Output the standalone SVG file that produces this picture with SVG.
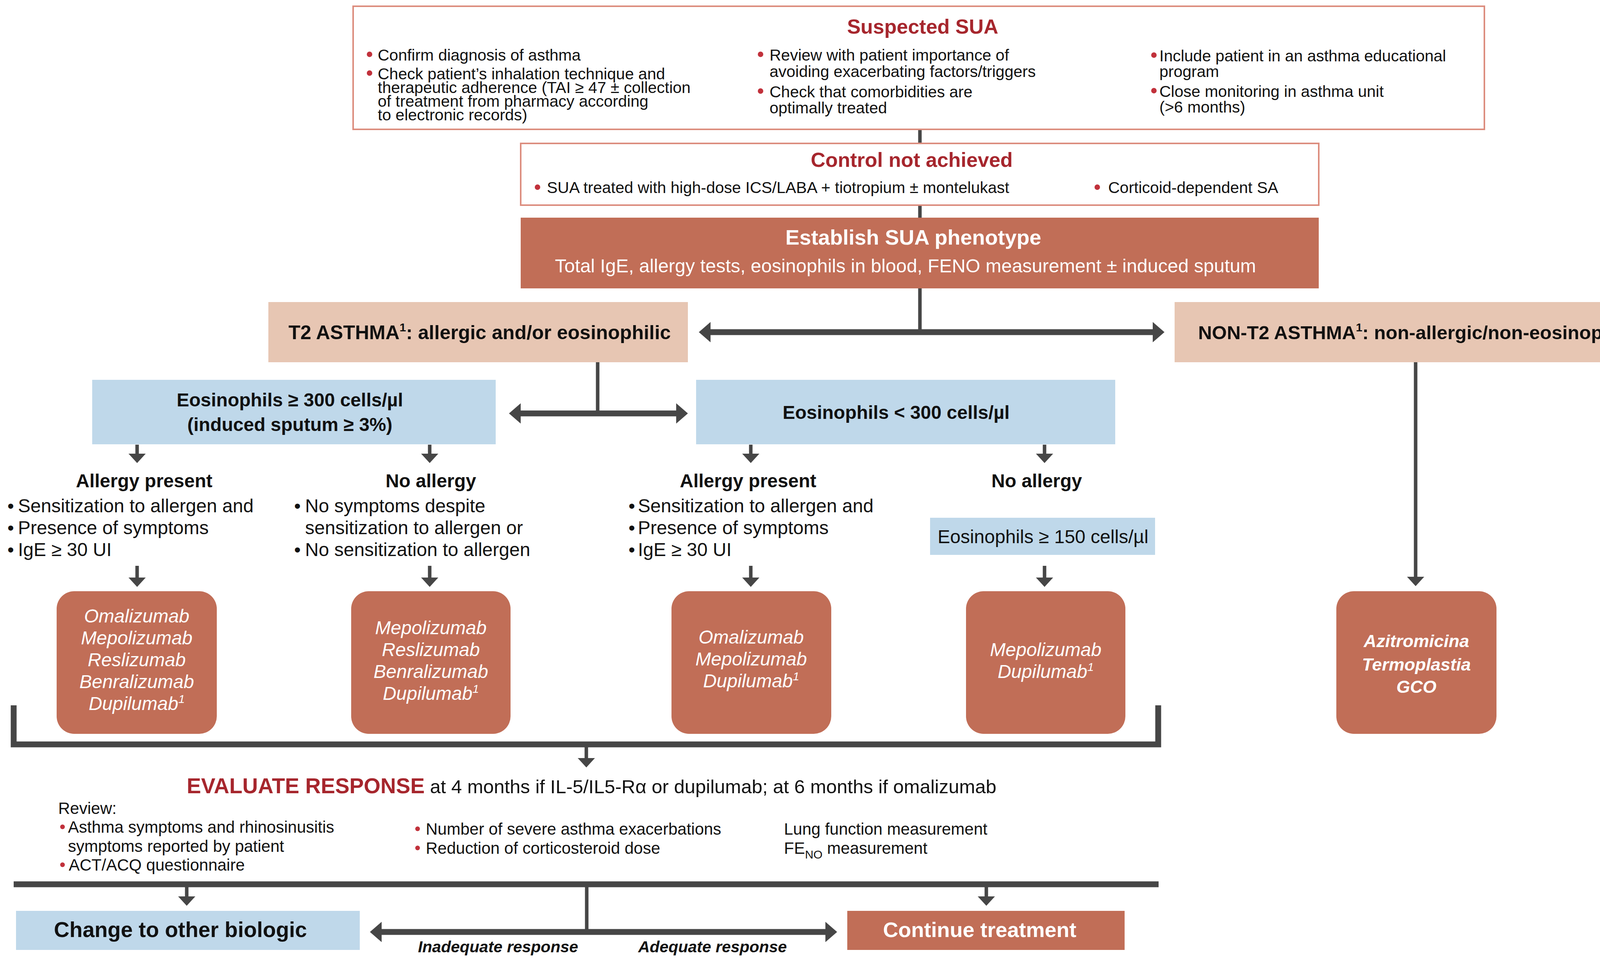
<svg xmlns="http://www.w3.org/2000/svg" width="4258" height="2467" viewBox="0 0 4258 2467">
<style>
text{font-family:"Liberation Sans",Arial,Helvetica,sans-serif;fill:#111}
.b{font-weight:bold}
.i{font-style:italic}
.red{fill:#a6262d}
.w{fill:#fff}
.s41{font-size:41px}
.s42{font-size:42px}
.s48{font-size:48px}
.s52{font-size:52px}
.s54{font-size:54px}
.mid{text-anchor:middle}
.frame{fill:#fff;stroke:#dc8d7e;stroke-width:4}
.terra{fill:#c16e57}
.peach{fill:#e7c6b3}
.blue{fill:#bfd8ea}
.ln{stroke:#464646;fill:none;stroke-width:9}
.thick{stroke:#464646;fill:none;stroke-width:15}
.dot{fill:#c1313b}
</style>
<defs>
<marker id="ah" markerUnits="userSpaceOnUse" viewBox="0 0 24 44" markerWidth="24" markerHeight="44" refX="0" refY="22" orient="auto-start-reverse"><path d="M0,0 L24,22 L0,44 z" fill="#464646"/></marker>
<marker id="ahB" markerUnits="userSpaceOnUse" viewBox="0 0 30 52" markerWidth="30" markerHeight="52" refX="0" refY="26" orient="auto-start-reverse"><path d="M0,0 L30,26 L0,52 z" fill="#464646"/></marker>
</defs>
<rect width="4258" height="2467" fill="#fff"/>

<g id="connectors">
<line class="ln" x1="2355" y1="331" x2="2355" y2="367"/>
<line class="ln" x1="2355" y1="525" x2="2355" y2="557"/>
<line class="ln" x1="2355" y1="738" x2="2355" y2="850"/>
<line class="thick" x1="1819" y1="850" x2="2951" y2="850" marker-start="url(#ahB)" marker-end="url(#ahB)"/>
<line class="ln" x1="1530" y1="927" x2="1530" y2="1058"/>
<line class="thick" x1="1333" y1="1058" x2="1731" y2="1058" marker-start="url(#ahB)" marker-end="url(#ahB)"/>
<line class="ln" x1="3624" y1="927" x2="3624" y2="1476" marker-end="url(#ah)"/>
<line class="ln" x1="351" y1="1138" x2="351" y2="1161" marker-end="url(#ah)"/>
<line class="ln" x1="1100" y1="1138" x2="1100" y2="1161" marker-end="url(#ah)"/>
<line class="ln" x1="1922" y1="1138" x2="1922" y2="1161" marker-end="url(#ah)"/>
<line class="ln" x1="2674" y1="1138" x2="2674" y2="1161" marker-end="url(#ah)"/>
<line class="ln" x1="351" y1="1448" x2="351" y2="1478" marker-end="url(#ah)"/>
<line class="ln" x1="1100" y1="1448" x2="1100" y2="1478" marker-end="url(#ah)"/>
<line class="ln" x1="1922" y1="1448" x2="1922" y2="1478" marker-end="url(#ah)"/>
<line class="ln" x1="2674" y1="1448" x2="2674" y2="1478" marker-end="url(#ah)"/>
<path class="thick" d="M35,1805 V1905 H2965 V1805"/>
<line class="ln" x1="1501" y1="1912" x2="1501" y2="1940" marker-end="url(#ah)"/>
<line class="thick" x1="35" y1="2263" x2="2966" y2="2263"/>
<line class="ln" x1="478" y1="2270" x2="478" y2="2294" marker-end="url(#ah)"/>
<line class="ln" x1="2525" y1="2270" x2="2525" y2="2294" marker-end="url(#ah)"/>
<line class="ln" x1="1502" y1="2270" x2="1502" y2="2385"/>
<line class="thick" x1="977" y1="2385" x2="2113" y2="2385" marker-start="url(#ahB)" marker-end="url(#ahB)"/>
<text class="b i s41 mid" x="1275" y="2437">Inadequate response</text>
<text class="b i s41 mid" x="1824" y="2437">Adequate response</text>
</g>

<g id="suspected">
<rect class="frame" x="904" y="16" width="2896" height="315"/>
<text class="b s52 red mid" x="2362" y="86">Suspected SUA</text>
<circle class="dot" cx="946" cy="139" r="7"/>
<text class="s41" x="967" y="155">Confirm diagnosis of asthma</text>
<circle class="dot" cx="946" cy="187" r="7"/>
<text class="s41" x="967" y="203">Check patient’s inhalation technique and</text>
<text class="s41" x="967" y="238">therapeutic adherence (TAI ≥ 47 ± collection</text>
<text class="s41" x="967" y="273">of treatment from pharmacy according</text>
<text class="s41" x="967" y="308">to electronic records)</text>
<circle class="dot" cx="1947" cy="139" r="7"/>
<text class="s41" x="1970" y="155">Review with patient importance of</text>
<text class="s41" x="1970" y="197">avoiding exacerbating factors/triggers</text>
<circle class="dot" cx="1947" cy="233" r="7"/>
<text class="s41" x="1970" y="249">Check that comorbidities are</text>
<text class="s41" x="1970" y="290">optimally treated</text>
<circle class="dot" cx="2954" cy="141" r="7"/>
<text class="s41" x="2968" y="157">Include patient in an asthma educational</text>
<text class="s41" x="2968" y="197">program</text>
<circle class="dot" cx="2954" cy="232" r="7"/>
<text class="s41" x="2968" y="248">Close monitoring in asthma unit</text>
<text class="s41" x="2968" y="288">(&gt;6 months)</text>
</g>

<g id="control">
<rect class="frame" x="1333" y="367" width="2043" height="158"/>
<text class="b s52 red mid" x="2334" y="427">Control not achieved</text>
<circle class="dot" cx="1376" cy="479" r="7"/>
<text class="s41" x="1400" y="494">SUA treated with high-dose ICS/LABA + tiotropium ± montelukast</text>
<circle class="dot" cx="2809" cy="479" r="7"/>
<text class="s41" x="2837" y="494">Corticoid-dependent SA</text>
</g>

<g id="establish">
<rect class="terra" x="1333" y="557" width="2043" height="181"/>
<text class="b s54 w mid" x="2338" y="626">Establish SUA phenotype</text>
<text class="w mid" x="2318" y="697" font-size="48.5">Total IgE, allergy tests, eosinophils in blood, FENO measurement ± induced sputum</text>
</g>

<g id="t2">
<rect class="peach" x="687" y="773" width="1074" height="154"/>
<text class="b mid" x="1228" y="868" font-size="50">T2 ASTHMA<tspan font-size="30" dy="-20">1</tspan><tspan dy="20">: allergic and/or eosinophilic</tspan></text>
</g>

<g id="nont2">
<rect class="peach" x="3007" y="773" width="1238" height="154"/>
<text class="b mid" x="3634" y="868" font-size="49">NON-T2 ASTHMA<tspan font-size="30" dy="-20">1</tspan><tspan dy="20">: non-allergic/non-eosinophilic</tspan></text>
</g>

<g id="eos300">
<rect class="blue" x="236" y="972" width="1033" height="165"/>
<text class="b s48 mid" x="742" y="1040">Eosinophils ≥ 300 cells/µl</text>
<text class="b s48 mid" x="742" y="1103">(induced sputum ≥ 3%)</text>
</g>

<g id="eoslt300">
<rect class="blue" x="1782" y="972" width="1073" height="165"/>
<text class="b s48 mid" x="2294" y="1072">Eosinophils &lt; 300 cells/µl</text>
</g>

<g id="allergy1">
<text class="b s48 mid" x="369" y="1247">Allergy present</text>
<text class="s48" x="19" y="1311">•</text><text class="s48" x="46" y="1311">Sensitization to allergen and</text>
<text class="s48" x="19" y="1367">•</text><text class="s48" x="46" y="1367">Presence of symptoms</text>
<text class="s48" x="19" y="1423">•</text><text class="s48" x="46" y="1423">IgE ≥ 30 UI</text>
</g>

<g id="noallergy1">
<text class="b s48 mid" x="1103" y="1247">No allergy</text>
<text class="s48" x="753" y="1311">•</text><text class="s48" x="781" y="1311">No symptoms despite</text>
<text class="s48" x="781" y="1367">sensitization to allergen or</text>
<text class="s48" x="753" y="1423">•</text><text class="s48" x="781" y="1423">No sensitization to allergen</text>
</g>

<g id="allergy2">
<text class="b s48 mid" x="1915" y="1247">Allergy present</text>
<text class="s48" x="1609" y="1311">•</text><text class="s48" x="1633" y="1311">Sensitization to allergen and</text>
<text class="s48" x="1609" y="1367">•</text><text class="s48" x="1633" y="1367">Presence of symptoms</text>
<text class="s48" x="1609" y="1423">•</text><text class="s48" x="1633" y="1423">IgE ≥ 30 UI</text>
</g>

<g id="noallergy2">
<text class="b s48 mid" x="2654" y="1247">No allergy</text>
</g>

<g id="eos150">
<rect class="blue" x="2381" y="1325" width="576" height="95"/>
<text class="s48 mid" x="2670" y="1390">Eosinophils ≥ 150 cells/µl</text>
</g>

<g id="drug1">
<rect class="terra" x="145" y="1513" width="410" height="365" rx="45"/>
<text class="i s48 w mid" x="350" y="1593">Omalizumab</text>
<text class="i s48 w mid" x="350" y="1649">Mepolizumab</text>
<text class="i s48 w mid" x="350" y="1705">Reslizumab</text>
<text class="i s48 w mid" x="350" y="1761">Benralizumab</text>
<text class="i s48 w mid" x="350" y="1817">Dupilumab<tspan font-size="30" dy="-18">1</tspan></text>
</g>

<g id="drug2">
<rect class="terra" x="899" y="1513" width="408" height="365" rx="45"/>
<text class="i s48 w mid" x="1103" y="1623">Mepolizumab</text>
<text class="i s48 w mid" x="1103" y="1679">Reslizumab</text>
<text class="i s48 w mid" x="1103" y="1735">Benralizumab</text>
<text class="i s48 w mid" x="1103" y="1791">Dupilumab<tspan font-size="30" dy="-18">1</tspan></text>
</g>

<g id="drug3">
<rect class="terra" x="1719" y="1513" width="409" height="365" rx="45"/>
<text class="i s48 w mid" x="1923" y="1647">Omalizumab</text>
<text class="i s48 w mid" x="1923" y="1703">Mepolizumab</text>
<text class="i s48 w mid" x="1923" y="1759">Dupilumab<tspan font-size="30" dy="-18">1</tspan></text>
</g>

<g id="drug4">
<rect class="terra" x="2473" y="1513" width="408" height="365" rx="45"/>
<text class="i s48 w mid" x="2677" y="1679">Mepolizumab</text>
<text class="i s48 w mid" x="2677" y="1735">Dupilumab<tspan font-size="30" dy="-18">1</tspan></text>
</g>

<g id="drug5">
<rect class="terra" x="3421" y="1513" width="410" height="365" rx="45"/>
<text class="b i w mid" x="3626" y="1656" font-size="45">Azitromicina</text>
<text class="b i w mid" x="3626" y="1716" font-size="45">Termoplastia</text>
<text class="b i w mid" x="3626" y="1773" font-size="45">GCO</text>
</g>

<g id="evaluate">
<text x="478" y="2030"><tspan class="b red" font-size="55">EVALUATE RESPONSE</tspan><tspan font-size="49"> at 4 months if IL-5/IL5-Rα or dupilumab; at 6 months if omalizumab</tspan></text>
<text class="s42" x="149" y="2083">Review:</text>
<circle class="dot" cx="160" cy="2116" r="6"/>
<text class="s42" x="174" y="2131">Asthma symptoms and rhinosinusitis</text>
<text class="s42" x="174" y="2180">symptoms reported by patient</text>
<circle class="dot" cx="160" cy="2213" r="6"/>
<text class="s42" x="176" y="2228">ACT/ACQ questionnaire</text>
<circle class="dot" cx="1069" cy="2121" r="6"/>
<text class="s42" x="1090" y="2136">Number of severe asthma exacerbations</text>
<circle class="dot" cx="1069" cy="2170" r="6"/>
<text class="s42" x="1090" y="2185">Reduction of corticosteroid dose</text>
<text class="s42" x="2007" y="2136">Lung function measurement</text>
<text class="s42" x="2007" y="2185">FE<tspan font-size="30" dy="12">NO</tspan><tspan dy="-12"> measurement</tspan></text>
</g>

<g id="change">
<rect class="blue" x="41" y="2331" width="880" height="100"/>
<text class="b mid" x="462" y="2398" font-size="55">Change to other biologic</text>
</g>

<g id="continue">
<rect class="terra" x="2169" y="2331" width="710" height="100"/>
<text class="b s54 w mid" x="2508" y="2398">Continue treatment</text>
</g>
</svg>
